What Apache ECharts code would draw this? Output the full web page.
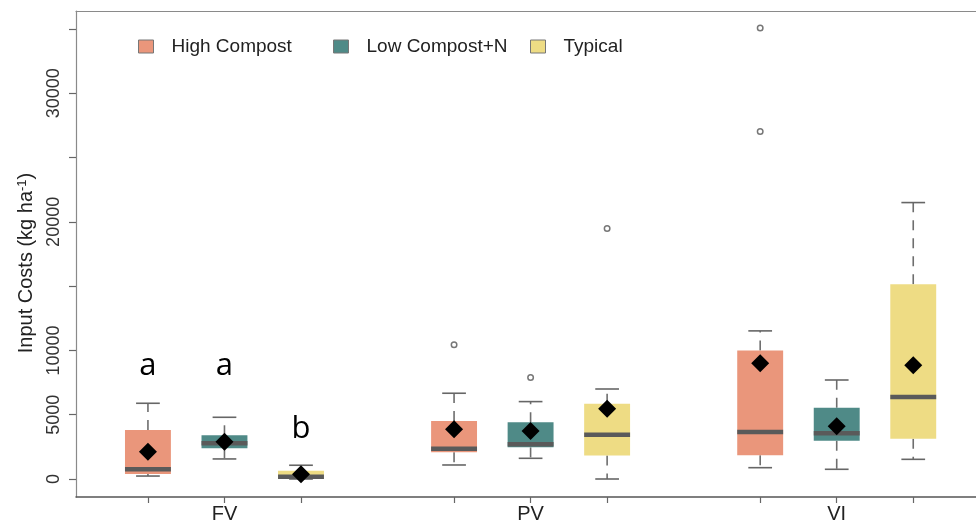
<!DOCTYPE html>
<html>
<head>
<meta charset="utf-8">
<script src="https://cdn.jsdelivr.net/npm/echarts@6/dist/echarts.min.js"></script>
<style>html,body{margin:0;padding:0;background:#fff;}#chart{width:976px;height:520px;}</style>
</head>
<body>
<div id="chart"></div>
<script>
// ---- data ----
const categories = ['FV', 'PV', 'VI'];
const treatments = ['High Compost', 'Low Compost+N', 'Typical'];
// [min, Q1, median, Q3, max] per category (FV, PV, VI)
const highCompost = [[230, 390, 755, 3810, 5890], [1090, 2075, 2360, 4510, 6670], [880, 1840, 3660, 9990, 11520]];
const lowCompostN = [[1560, 2390, 2780, 3400, 4800], [1610, 2460, 2700, 4410, 6020], [755, 2980, 3560, 5550, 7700]];
const typical = [[0, 25, 180, 650, 1070], [0, 1820, 3450, 5860, 7000], [1530, 3140, 6380, 15150, 21500]];
// means per category
const highCompostMean = [2120, 3865, 9000];
const lowCompostNMean = [2900, 3735, 4100];
const typicalMean = [370, 5470, 8850];
// outliers: [categoryIndex, value]
const highCompostOut = [[1, 10450], [2, 35070], [2, 27030]];
const lowCompostNOut = [[1, 7885]];
const typicalOut = [[1, 19480]];
// significance letters for FV (one per treatment)
const letterText = ['a', 'a', 'b'];
const letterValue = [8800, 8800, 3900];
// y-axis ticks / labels
const yTicks = [0, 5000, 10000, 15000, 20000, 25000, 30000, 35000];
const yLabels = [0, 5000, 10000, 20000, 30000];

// ---- build ----
const boxSets = [highCompost, lowCompostN, typical];
const meanSets = [highCompostMean, lowCompostNMean, typicalMean];
const outSets = [highCompostOut, lowCompostNOut, typicalOut];
const colors = ['#EA967B', '#4F8A87', '#EEDC84'];
const pos = (g, t) => g * 4 + t + 1;

const BOX_W = 0.6, CAP_W = 0.31;
function renderBox(params, api) {
  const x = api.value(0);
  const pMin = api.coord([x, api.value(1)]);
  const pQ1 = api.coord([x, api.value(2)]);
  const pMed = api.coord([x, api.value(3)]);
  const pQ3 = api.coord([x, api.value(4)]);
  const pMax = api.coord([x, api.value(5)]);
  const bw = api.size([BOX_W, 0])[0];
  const cw = api.size([CAP_W, 0])[0];
  const cx = pMed[0];
  const color = api.visual('color');
  const wStyle = {stroke: '#6e6e6e', lineWidth: 1.6, lineDash: [10, 8]};
  const cStyle = {stroke: '#666', lineWidth: 1.6};
  return {type: 'group', children: [
    {type: 'line', shape: {x1: cx, y1: pQ3[1], x2: cx, y2: pMax[1]}, style: wStyle},
    {type: 'line', shape: {x1: cx, y1: pQ1[1], x2: cx, y2: pMin[1]}, style: wStyle},
    {type: 'line', shape: {x1: cx - cw / 2, y1: pMax[1], x2: cx + cw / 2, y2: pMax[1]}, style: cStyle},
    {type: 'line', shape: {x1: cx - cw / 2, y1: pMin[1], x2: cx + cw / 2, y2: pMin[1]}, style: cStyle},
    {type: 'rect', shape: {x: cx - bw / 2, y: pQ3[1], width: bw, height: Math.max(pQ1[1] - pQ3[1], 1)}, style: {fill: color}},
    {type: 'line', shape: {x1: cx - bw / 2, y1: pMed[1], x2: cx + bw / 2, y2: pMed[1]}, style: {stroke: '#5a5a5a', lineWidth: 4.5}}
  ]};
}

const series = [];
treatments.forEach((name, t) => {
  series.push({
    name: name, type: 'custom', renderItem: renderBox,
    itemStyle: {color: colors[t]},
    encode: {x: 0, y: [1, 2, 3, 4, 5]},
    data: boxSets[t].map((b, g) => [pos(g, t)].concat(b)),
    z: 2
  });
});
const meanData = [], outData = [];
treatments.forEach((name, t) => {
  meanSets[t].forEach((m, g) => meanData.push([pos(g, t), m]));
  outSets[t].forEach(o => outData.push([pos(o[0], t), o[1]]));
});
series.push({
  name: 'mean', type: 'scatter', symbol: 'diamond', symbolSize: 18,
  itemStyle: {color: '#000', opacity: 1}, data: meanData, z: 5, silent: true
});
series.push({
  name: 'outliers', type: 'scatter', symbol: 'circle', symbolSize: 5.5,
  itemStyle: {color: '#fff', borderColor: '#777', borderWidth: 1.5, opacity: 1}, data: outData, z: 4, silent: true
});
series.push({
  name: 'letters', type: 'scatter', symbolSize: 1, itemStyle: {color: 'rgba(0,0,0,0)', opacity: 1},
  data: letterText.map((l, t) => ({value: [pos(0, t), letterValue[t]], label: {formatter: l}})),
  label: {show: true, position: 'inside', color: '#000', fontSize: 31, fontFamily: 'Open Sans'},
  z: 6, silent: true
});

const legendBase = {
  orient: 'horizontal', top: 32, icon: 'rect', itemWidth: 15, itemHeight: 13,
  itemStyle: {borderColor: '#777', borderWidth: 1},
  textStyle: {fontSize: 19, fontFamily: 'Liberation Sans', color: '#222', padding: [0, 0, 0, 13]},
  selectedMode: false
};
const legendLefts = [133, 328, 525];

const chart = echarts.init(document.getElementById('chart'), null, {renderer: 'canvas'});
chart.setOption({
  animation: false,
  backgroundColor: '#fff',
  legend: treatments.map((n, i) => Object.assign({}, legendBase, {data: [n], left: legendLefts[i]})),
  grid: {left: 76, right: 0, top: 11, bottom: 23, show: false, containLabel: false, outerBoundsMode: 'none'},
  xAxis: [{
    type: 'value', min: 0.06, max: 11.82, position: 'bottom',
    splitLine: {show: false},
    axisLine: {show: true, onZero: false, lineStyle: {color: '#555', width: 1.5}},
    axisTick: {show: true, length: 6, lineStyle: {color: '#666', width: 1.2},
      customValues: [0, 1, 2].flatMap(g => [0, 1, 2].map(t => pos(g, t)))},
    axisLabel: {show: true, customValues: categories.map((c, g) => pos(g, 1)),
      formatter: v => categories[Math.round((v - 2) / 4)], fontSize: 20, fontFamily: 'Liberation Sans', color: '#222', margin: 7}
  }, {
    type: 'value', min: 0.06, max: 11.82, position: 'top',
    splitLine: {show: false},
    axisLine: {show: true, onZero: false, lineStyle: {color: '#8a8a8a', width: 1.2}},
    axisTick: {show: false}, axisLabel: {show: false}
  }],
  yAxis: {
    type: 'value', min: -1400, max: 36400,
    splitLine: {show: false},
    axisLine: {show: true, onZero: false, lineStyle: {color: '#8a8a8a', width: 1.2}},
    axisTick: {show: true, length: 7, lineStyle: {color: '#666', width: 1.2}, customValues: yTicks},
    axisLabel: {show: true, customValues: yLabels, formatter: v => String(v), rotate: 90, fontSize: 18, fontFamily: 'Liberation Sans', color: '#333', margin: 13},
    name: '{a|Input Costs (kg ha}{s|-1}{a|)}',
    nameLocation: 'middle', nameGap: 40, nameRotate: 90,
    nameTextStyle: {padding: [0, 18, 0, 0], rich: {
      a: {fontSize: 20, fontFamily: 'Liberation Sans', color: '#222'},
      s: {fontSize: 13, fontFamily: 'Liberation Sans', color: '#222', verticalAlign: 'top'}
    }}
  },
  series: series
});
</script>
</body>
</html>
